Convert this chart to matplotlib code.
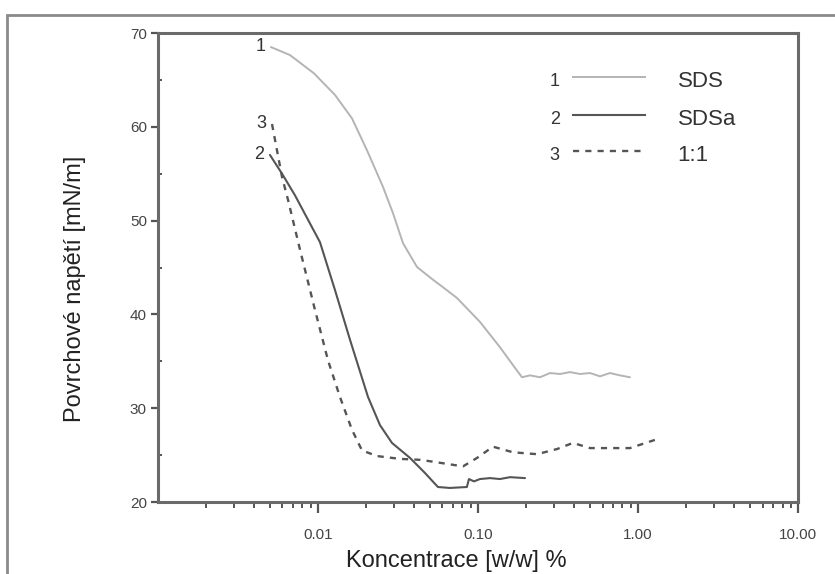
"""Surface tension vs. concentration for SDS, SDSa and their 1:1 mixture."""
import matplotlib
matplotlib.use("Agg")
import matplotlib.pyplot as plt
import matplotlib.ticker as mticker
from matplotlib.patches import Rectangle

plt.rcParams["font.family"] = ["Liberation Sans", "DejaVu Sans"]

# concentration [w/w %] and surface tension [mN/m]
sds_c = [0.00508, 0.00668, 0.00944, 0.01277, 0.01631, 0.02024, 0.02547, 0.02942,
         0.03397, 0.04159, 0.0523, 0.0604, 0.0739, 0.1029, 0.1372, 0.1703, 0.1884,
         0.2113, 0.244, 0.282, 0.3255, 0.376, 0.434, 0.501, 0.579, 0.668, 0.772,
         0.891]
sds_g = [68.5, 67.65, 65.7, 63.4, 60.9, 57.5, 53.6, 50.8, 47.6, 45.05, 43.7,
         42.9, 41.75, 39.2, 36.5, 34.3, 33.3, 33.5, 33.3, 33.75, 33.65, 33.85,
         33.65, 33.75, 33.4, 33.75, 33.5, 33.3]

sdsa_c = [0.00501, 0.00596, 0.00718, 0.01029, 0.01277, 0.01585, 0.02054, 0.0244,
          0.029, 0.0376, 0.0466, 0.0562, 0.0668, 0.0852, 0.0878, 0.0944, 0.1029,
          0.1189, 0.1372, 0.1585, 0.1967]
sdsa_g = [57.0, 55.0, 52.7, 47.7, 42.6, 37.3, 31.2, 28.2, 26.3, 24.7, 23.1,
          21.6, 21.5, 21.6, 22.45, 22.2, 22.45, 22.55, 22.45, 22.65, 22.55]

mix_c = [0.00516, 0.00596, 0.0065, 0.00772, 0.00957, 0.01155, 0.01372, 0.01631,
         0.01884, 0.02338, 0.0325, 0.0434, 0.0523, 0.0806, 0.0986, 0.124, 0.1655,
         0.234, 0.312, 0.392, 0.501, 0.668, 0.891, 1.372]
mix_g = [60.3, 54.65, 52.2, 46.9, 40.5, 35.1, 31.2, 27.7, 25.5, 24.9, 24.6,
         24.5, 24.3, 23.8, 24.7, 25.9, 25.3, 25.1, 25.65, 26.3, 25.75, 25.75,
         25.75, 26.8]

series = [
    ("1", "SDS", sds_c, sds_g, dict(color="#b4b4b4", lw=1.4)),
    ("2", "SDSa", sdsa_c, sdsa_g, dict(color="#555555", lw=1.5)),
    ("3", "1:1", mix_c, mix_g, dict(color="#555555", lw=1.7, dashes=(2.6, 2.6))),
]

fig = plt.figure(figsize=(8.35, 5.74), dpi=100)
ax = fig.add_axes([0.1892, 0.1254, 0.7665, 0.8171])

# outer grey frame, running off the right and bottom edges
fig.add_artist(Rectangle((0.0084, -0.1), 1.2, 1.0739, transform=fig.transFigure,
                         fill=False, ec="#8a8a8a", lw=2.0))

for num, name, c, g, style in series:
    ax.plot(c, g, solid_capstyle="round", **style)
    ax.text(c[0] * 0.86, g[0] + 0.1, num, ha="center", va="center",
            fontsize=13, color="#333333")

# in-plot key: number, line sample, name
rows = [0.906, 0.826, 0.748]
for (num, name, c, g, style), yr in zip(series, rows):
    ax.text(0.62, yr - 0.01, num, transform=ax.transAxes, ha="center",
            va="center", fontsize=13, color="#333333")
    ax.plot([0.648, 0.761], [yr, yr], transform=ax.transAxes, **style)
    ax.text(0.812, yr - 0.01, name, transform=ax.transAxes, ha="left",
            va="center", fontsize=16, color="#333333")

ax.set_xscale("log")
ax.set_xlim(0.001, 10)
ax.set_ylim(20, 70)
ax.xaxis.set_major_locator(mticker.FixedLocator([0.01, 0.1, 1, 10]))
ax.xaxis.set_major_formatter(mticker.FixedFormatter(["0.01", "0.10", "1.00", "10.00"]))
ax.xaxis.set_minor_locator(mticker.LogLocator(base=10, subs=range(2, 10), numticks=20))
ax.xaxis.set_minor_formatter(mticker.NullFormatter())
ax.yaxis.set_major_locator(mticker.MultipleLocator(10))
ax.yaxis.set_minor_locator(mticker.MultipleLocator(5))

for sp in ax.spines.values():
    sp.set_color("#6a6a6a")
    sp.set_linewidth(2.2)

ax.tick_params(which="major", direction="out", color="#555555", width=1.6,
               labelsize=11, labelcolor="#444444")
ax.tick_params(axis="x", which="major", length=8, pad=11)
ax.tick_params(axis="y", which="major", length=5, pad=3)
ax.tick_params(axis="x", which="minor", direction="out", length=4, width=1.4,
               color="#555555")
ax.tick_params(axis="y", which="minor", direction="in", length=3, width=1.4,
               color="#555555")

fig.text(0.546, 0.012, "Koncentrace [w/w] %", ha="center", va="baseline",
         fontsize=17, color="#222222")
fig.text(0.09, 0.497, "Povrchové napětí [mN/m]", ha="center", va="center",
         rotation=90, fontsize=17, color="#222222")

fig.savefig("out.png", dpi=100)
